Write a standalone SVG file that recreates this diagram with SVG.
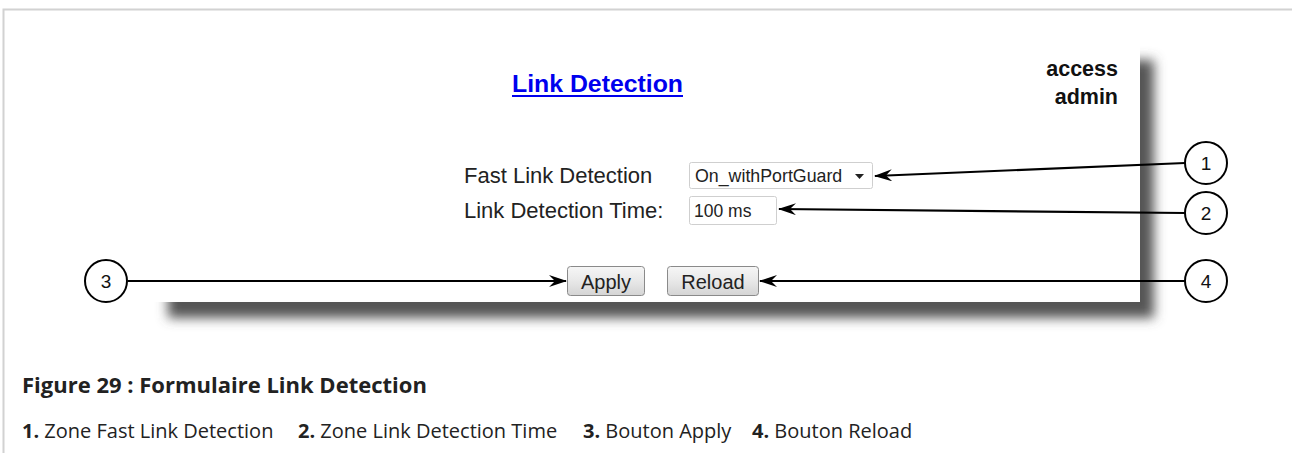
<svg xmlns="http://www.w3.org/2000/svg" width="1292" height="453" viewBox="0 0 1292 453">
<style>
.ui{font-family:"Liberation Sans",Arial,sans-serif;fill:#222}
.cap{font-family:"Open Sans","Noto Sans",sans-serif;fill:#222}
.num{font-family:"Liberation Sans",Arial,sans-serif;font-size:19px;fill:#111;text-anchor:middle}
.callout{fill:#fff;stroke:#000;stroke-width:2}
.conn{stroke:#000;stroke-width:2.2;fill:none;marker-end:url(#arr)}
.btn{fill:url(#btng);stroke:#8a8a8a;stroke-width:1}
.field{fill:#fff;stroke:#cfcfcf;stroke-width:1}
</style>
<defs>
<marker id="arr" viewBox="0 0 18 12" refX="17" refY="6" markerWidth="18" markerHeight="12" markerUnits="userSpaceOnUse" orient="auto">
<path d="M0,0 L18,6 L0,12 L6,6 Z" fill="#000"/>
</marker>
<linearGradient id="btng" x1="0" y1="0" x2="0" y2="1">
<stop offset="0" stop-color="#f6f6f6"/>
<stop offset="0.5" stop-color="#e8e8e8"/>
<stop offset="1" stop-color="#d4d4d4"/>
</linearGradient>
<filter id="blur" x="-5%" y="-20%" width="110%" height="140%">
<feGaussianBlur stdDeviation="6"/>
</filter>
</defs>
<rect width="1292" height="453" fill="#fff"/>
<path d="M3.5,453 V9.5 H1292" fill="none" stroke="#d2d2d2" stroke-width="2"/>
<g id="panel">
<rect x="168" y="60" width="986" height="258" fill="#555" filter="url(#blur)"/>
<rect x="140" y="36" width="1000" height="266" fill="#fff"/>
</g>
<g id="title">
<text class="ui" x="512" y="92" font-size="24" font-weight="bold" textLength="171" lengthAdjust="spacingAndGlyphs" style="fill:#0000ee">Link Detection</text>
<rect x="512" y="95" width="171" height="2" fill="#0000ee"/>
</g>
<g id="user">
<text class="ui" x="1118" y="76" font-size="21.5" font-weight="bold" text-anchor="end" style="fill:#111">access</text>
<text class="ui" x="1118" y="104" font-size="21.5" font-weight="bold" text-anchor="end" style="fill:#111">admin</text>
</g>
<g id="fast-link-detection">
<text class="ui" x="464" y="183" font-size="22">Fast Link Detection</text>
<rect class="field" x="689.5" y="162.5" width="183" height="26" rx="2"/>
<text class="ui" x="695" y="182" font-size="17.8">On_withPortGuard</text>
<path d="M855,174 h9 l-4.5,5 z" fill="#222"/>
</g>
<g id="link-detection-time">
<text class="ui" x="464" y="218" font-size="22">Link Detection Time:</text>
<rect class="field" x="689.5" y="196.5" width="87" height="28" rx="2"/>
<text class="ui" x="694" y="217" font-size="17.5">100 ms</text>
</g>
<g id="apply">
<rect class="btn" x="567.5" y="266.5" width="77" height="29" rx="3"/>
<text class="ui" x="606" y="289" font-size="20" text-anchor="middle">Apply</text>
</g>
<g id="reload">
<rect class="btn" x="667.5" y="266.5" width="91" height="29" rx="3"/>
<text class="ui" x="713" y="289" font-size="20" text-anchor="middle">Reload</text>
</g>
<g id="connectors">
<line class="conn" x1="1185" y1="163" x2="875" y2="176"/>
<line class="conn" x1="1185" y1="213" x2="779" y2="209"/>
<line class="conn" x1="128" y1="281" x2="566" y2="281"/>
<line class="conn" x1="1185" y1="281" x2="760" y2="281"/>
</g>
<g id="callout-1">
<circle class="callout" cx="1206" cy="163" r="21"/>
<text class="num" x="1206" y="170">1</text>
</g>
<g id="callout-2">
<circle class="callout" cx="1206" cy="213" r="21"/>
<text class="num" x="1206" y="220">2</text>
</g>
<g id="callout-3">
<circle class="callout" cx="106" cy="281" r="21"/>
<text class="num" x="106" y="288">3</text>
</g>
<g id="callout-4">
<circle class="callout" cx="1206" cy="281" r="21"/>
<text class="num" x="1206" y="288">4</text>
</g>
<g id="caption">
<text class="cap" x="22" y="393" font-size="22" font-weight="bold">Figure 29 : Formulaire Link Detection</text>
<text class="cap" x="22" y="438" font-size="20"><tspan font-weight="bold">1.</tspan> Zone Fast Link Detection<tspan x="298" font-weight="bold">2.</tspan> Zone Link Detection Time<tspan x="583" font-weight="bold">3.</tspan> Bouton Apply<tspan x="752" font-weight="bold">4.</tspan> Bouton Reload</text>
</g>
</svg>
